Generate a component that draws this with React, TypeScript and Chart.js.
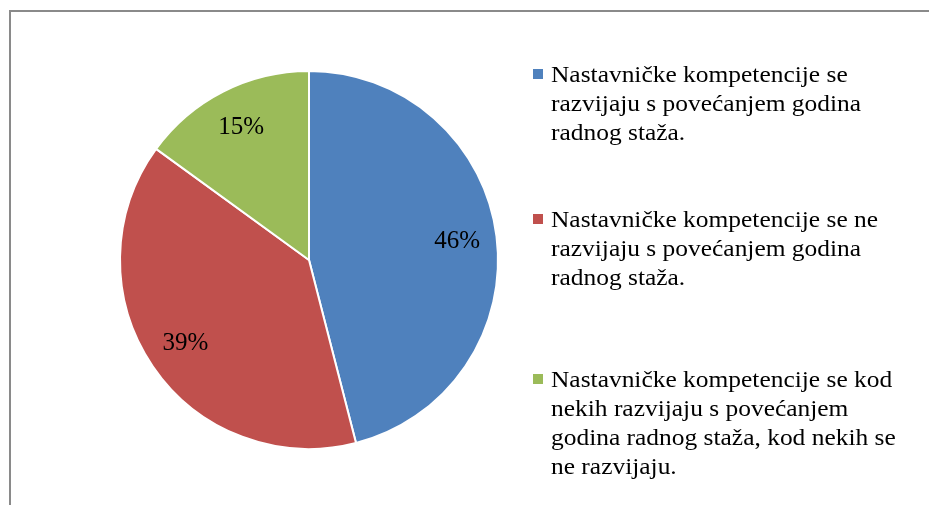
import React, { useEffect, useRef } from "react";
import { Chart, registerables } from "chart.js";

Chart.register(...registerables);

const categories: string[][] = [
  ["Nastavničke kompetencije se", "razvijaju s povećanjem godina", "radnog staža."],
  ["Nastavničke kompetencije se ne", "razvijaju s povećanjem godina", "radnog staža."],
  ["Nastavničke kompetencije se kod", "nekih razvijaju s povećanjem", "godina radnog staža, kod nekih se", "ne razvijaju."],
];
const values: number[] = [46, 39, 15];
const colors: string[] = ["#4F81BD", "#C0504D", "#9BBB59"];

const FONT = '"Liberation Serif", "Times New Roman", serif';

const framePlugin = {
  id: "frame",
  beforeDraw(chart: any) {
    const ctx = chart.ctx;
    ctx.save();
    ctx.strokeStyle = "#8a8a8a";
    ctx.lineWidth = 2;
    ctx.beginPath();
    ctx.moveTo(10, chart.height + 5);
    ctx.lineTo(10, 11);
    ctx.lineTo(chart.width + 5, 11);
    ctx.stroke();
    ctx.restore();
  },
};

const labelPlugin = {
  id: "pctLabels",
  afterDatasetsDraw(chart: any) {
    const ctx = chart.ctx;
    const meta = chart.getDatasetMeta(0);
    ctx.save();
    ctx.font = `25px ${FONT}`;
    ctx.fillStyle = "#000";
    ctx.textAlign = "center";
    ctx.textBaseline = "middle";
    meta.data.forEach((arc: any, i: number) => {
      const p = arc.getProps(["startAngle", "endAngle", "outerRadius", "x", "y"], true);
      const mid = (p.startAngle + p.endAngle) / 2;
      const r = p.outerRadius * 0.79;
      ctx.fillText(values[i] + "%", p.x + Math.cos(mid) * r, p.y + Math.sin(mid) * r);
    });
    ctx.restore();
  },
};

const legendPlugin = {
  id: "customLegend",
  afterDraw(chart: any) {
    const ctx = chart.ctx;
    const lineH = 29;
    const boxX = 533;
    const textX = 551;
    const firstBaselines = [82, 227, 387];
    ctx.save();
    ctx.font = `24px ${FONT}`;
    ctx.textBaseline = "alphabetic";
    ctx.textAlign = "left";
    categories.forEach((lines, i) => {
      const base = firstBaselines[i];
      ctx.fillStyle = colors[i];
      ctx.fillRect(boxX, base - 13, 10, 10);
      ctx.fillStyle = "#000";
      lines.forEach((ln, j) => {
        ctx.save();
        ctx.translate(textX, base + j * lineH);
        ctx.scale(1.06, 1);
        ctx.fillText(ln, 0, 0);
        ctx.restore();
      });
    });
    ctx.restore();
  },
};

export default function App() {
  const ref = useRef<HTMLCanvasElement | null>(null);
  useEffect(() => {
    document.body.style.margin = "0";
    if (!ref.current) return;
    const chart = new Chart(ref.current, {
      type: "pie",
      data: {
        labels: categories.map((c) => c.join(" ")),
        datasets: [
          {
            data: values,
            backgroundColor: colors,
            borderColor: "#ffffff",
            borderWidth: 2,
          },
        ],
      },
      options: {
        responsive: false,
        animation: false,
        layout: { padding: { left: 119, right: 430, top: 70, bottom: 55 } },
        plugins: {
          legend: { display: false },
          tooltip: { enabled: false },
        },
      },
      plugins: [framePlugin, labelPlugin, legendPlugin],
    });
    return () => chart.destroy();
  }, []);
  return (
    <div style={{ width: 929, height: 505 }}>
      <canvas ref={ref} width={929} height={505} />
    </div>
  );
}
